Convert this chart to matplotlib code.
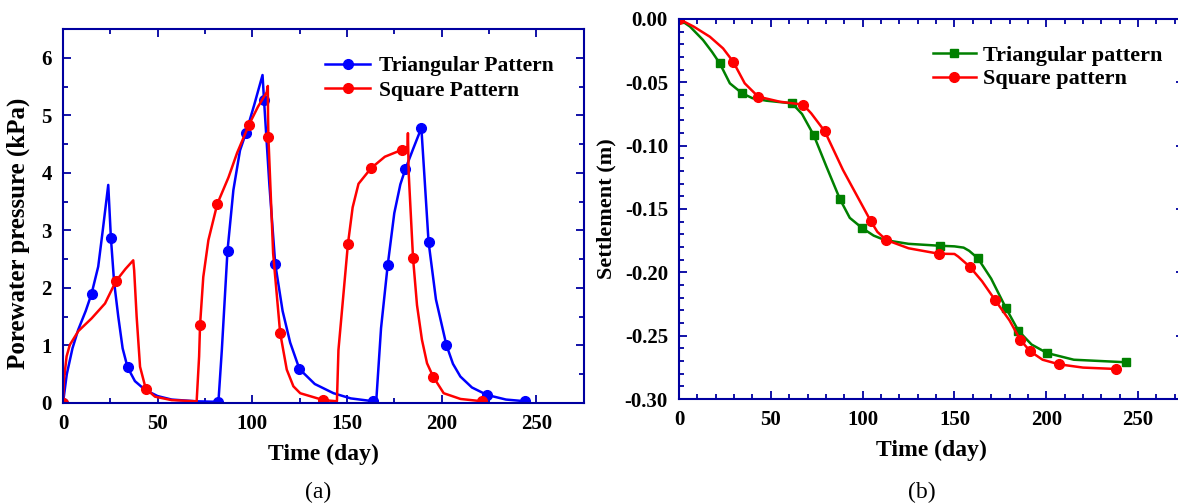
import matplotlib
matplotlib.use("Agg")
import matplotlib.pyplot as plt
from matplotlib.ticker import MultipleLocator, FormatStrFormatter

# ---- panel (a): porewater pressure ----
tri_t = [0, 2, 5, 8, 12, 15.1, 18.6, 21, 23.9, 25.3, 27, 29.2, 31.5, 34.1, 38, 43.3, 50, 57.4, 70,
         82.1, 83.9, 86.9, 90, 93.5, 96.7, 101, 105.4, 106.2, 109, 112.1, 116, 120, 124.9, 133, 142.9,
         152, 164, 165.5, 168, 171.5, 175, 178.2, 180.8, 185, 189.3, 191, 193.1, 197, 202.5, 206,
         209.9, 216, 224, 234, 244.3]
tri_p = [0, 0.5, 0.95, 1.27, 1.6, 1.90, 2.37, 3.0, 3.79, 2.87, 2.1, 1.5, 0.95, 0.62, 0.38, 0.23, 0.12, 0.06, 0.03,
         0.02, 0.92, 2.65, 3.7, 4.39, 4.70, 5.18, 5.70, 5.26, 3.8, 2.42, 1.6, 1.05, 0.59, 0.33, 0.17,
         0.08, 0.03, 0.05, 1.3, 2.39, 3.3, 3.8, 4.06, 4.42, 4.78, 3.9, 2.80, 1.8, 1.01, 0.68,
         0.46, 0.27, 0.14, 0.06, 0.03]
tri_marks = [0, 5, 9, 13, 19, 21, 24, 27, 29, 32, 36, 39, 42, 44, 46, 48, 52, 54]

sq_t = [0, 0.5, 1.9, 3.6, 8.1, 15.1, 22.2, 28.0, 33, 37.1, 37.6, 38.9, 40.7, 43.7, 48.6, 57.4, 70.6,
        71.9, 72.4, 74.1, 76.8, 81.5, 87.4, 92, 98.3, 103, 107.6, 108.2, 108.3, 108.5, 111, 114.7,
        118.2, 121.7, 125.3, 137.6, 144.7, 145.5, 150.5, 153, 156.1, 162.7, 170, 179, 182.0, 182.2,
        182.6, 184.9, 187, 189.6, 192.3, 195.5, 201.1, 210, 221.4]
sq_p = [0, 0.4, 0.81, 1.01, 1.25, 1.47, 1.73, 2.12, 2.33, 2.48, 2.3, 1.5, 0.63, 0.25, 0.11, 0.05, 0.03,
        0.81, 1.36, 2.19, 2.83, 3.46, 3.92, 4.35, 4.84, 5.15, 5.4, 5.51, 5.0, 4.62, 2.6, 1.22,
        0.58, 0.29, 0.17, 0.05, 0.03, 0.92, 2.76, 3.4, 3.81, 4.08, 4.28, 4.40, 4.45, 4.69,
        4.0, 2.52, 1.7, 1.10, 0.69, 0.46, 0.17, 0.07, 0.03]
sq_marks = [0, 7, 13, 18, 21, 24, 29, 31, 35, 38, 41, 43, 47, 51, 54]

# ---- panel (b): settlement ----
tri_st = [0, 6, 13.1, 18, 22.2, 27.7, 34.4, 40, 47.6, 61.6, 67, 73.4, 80.3, 87.7, 93, 99.7, 106, 112,
          125, 141.9, 150, 155, 158, 162.8, 170, 178.1, 184.8, 192, 200.4, 215, 243.4]
tri_s = [0, -0.006, -0.0166, -0.026, -0.035, -0.0508, -0.0587, -0.0625, -0.0645, -0.0666, -0.075,
         -0.0918, -0.1166, -0.1424, -0.157, -0.165, -0.171, -0.1745, -0.1775, -0.179, -0.1795,
         -0.1805, -0.183, -0.189, -0.205, -0.2284, -0.2461, -0.257, -0.2637, -0.269, -0.271]
tri_smarks = [0, 4, 6, 9, 11, 13, 15, 19, 23, 25, 26, 28, 30]

sq_st = [0, 8, 16.8, 24, 29.5, 35.8, 43.1, 54.9, 67.6, 72, 79.4, 89.3, 104.4, 108, 112.9, 125, 141.4,
         150, 152, 158.3, 165, 172.1, 180, 185.9, 191.3, 198, 206.9, 220, 238.1]
sq_s = [0, -0.006, -0.014, -0.0232, -0.0337, -0.0508, -0.0613, -0.0653, -0.0676, -0.0745, -0.0887,
        -0.1192, -0.1595, -0.168, -0.1745, -0.181, -0.1853, -0.1855, -0.1875, -0.1955, -0.207,
        -0.2218, -0.238, -0.2534, -0.2624, -0.269, -0.2726, -0.2752, -0.2763]
sq_smarks = [0, 4, 6, 8, 10, 12, 14, 16, 19, 21, 23, 24, 26, 28]

SPINE = "#0000a0"
plt.rcParams["font.family"] = ["Liberation Serif", "DejaVu Serif"]
plt.rcParams["font.weight"] = "bold"


def style_axes(ax, xminor, yminor):
    for s in ax.spines.values():
        s.set_color(SPINE)
        s.set_linewidth(1.5)
    ax.tick_params(which="both", direction="in", top=True, right=True, colors=SPINE,
                   labelcolor="black", labelsize=15, width=1.3)
    ax.tick_params(which="major", length=6, pad=8)
    ax.tick_params(which="minor", length=3.5)
    ax.xaxis.set_major_locator(MultipleLocator(50))
    ax.xaxis.set_minor_locator(MultipleLocator(xminor))
    ax.yaxis.set_minor_locator(MultipleLocator(yminor))
    for lab in ax.get_xticklabels() + ax.get_yticklabels():
        lab.set_fontweight("bold")


fig = plt.figure(figsize=(11.78, 5.04), dpi=100)

ax1 = fig.add_axes([63 / 1178, 1 - 403 / 504, 520.6 / 1178, 374 / 504])
ax1.plot(tri_t, tri_p, color="#0000ff", lw=1.8, marker="o", ms=7, markevery=tri_marks,
         label="Triangular Pattern")
ax1.plot(sq_t, sq_p, color="#ff0000", lw=1.8, marker="o", ms=7, markevery=sq_marks,
         label="Square Pattern")
ax1.set_xlim(0, 275)
ax1.set_ylim(0, 6.5)
ax1.yaxis.set_major_locator(MultipleLocator(1))
style_axes(ax1, 25, 0.5)
ax1.set_xlabel("Time (day)", fontsize=17, fontweight="bold", labelpad=7)
ax1.set_ylabel("Porewater pressure (kPa)", fontsize=18, fontweight="bold")
ax1.yaxis.set_label_coords(-0.064, 0.455)
ax1.legend(loc="upper left", bbox_to_anchor=(0.487, 0.95), frameon=False,
           prop={"weight": "bold", "size": 15.5}, handlelength=2.1, handletextpad=0.4,
           labelspacing=0.2, borderaxespad=0)

ax2 = fig.add_axes([679 / 1178, 1 - 399 / 504, 505 / 1178, 380 / 504])
ax2.plot(tri_st, tri_s, color="#008000", lw=1.8, marker="s", ms=6, markevery=tri_smarks,
         label="Triangular pattern")
ax2.plot(sq_st, sq_s, color="#ff0000", lw=1.8, marker="o", ms=7, markevery=sq_smarks,
         label="Square pattern")
ax2.set_xlim(0, 275)
ax2.set_ylim(-0.30, 0.0)
ax2.yaxis.set_major_locator(MultipleLocator(0.05))
ax2.yaxis.set_major_formatter(FormatStrFormatter("%.2f"))
style_axes(ax2, 10, 0.01)
ax2.set_xlabel("Time (day)", fontsize=17, fontweight="bold", labelpad=7)
ax2.set_ylabel("Settlement (m)", fontsize=16, fontweight="bold", labelpad=6)
ax2.legend(loc="upper left", bbox_to_anchor=(0.486, 0.955), frameon=False,
           prop={"weight": "bold", "size": 16}, handlelength=1.9, handletextpad=0.35,
           labelspacing=0.15, borderaxespad=0)

fig.text(318 / 1178, 1 - 492 / 504, "(a)", ha="center", va="center", fontsize=17, fontweight="normal")
fig.text(922 / 1178, 1 - 492 / 504, "(b)", ha="center", va="center", fontsize=17, fontweight="normal")

fig.savefig("out.png", dpi=100)
